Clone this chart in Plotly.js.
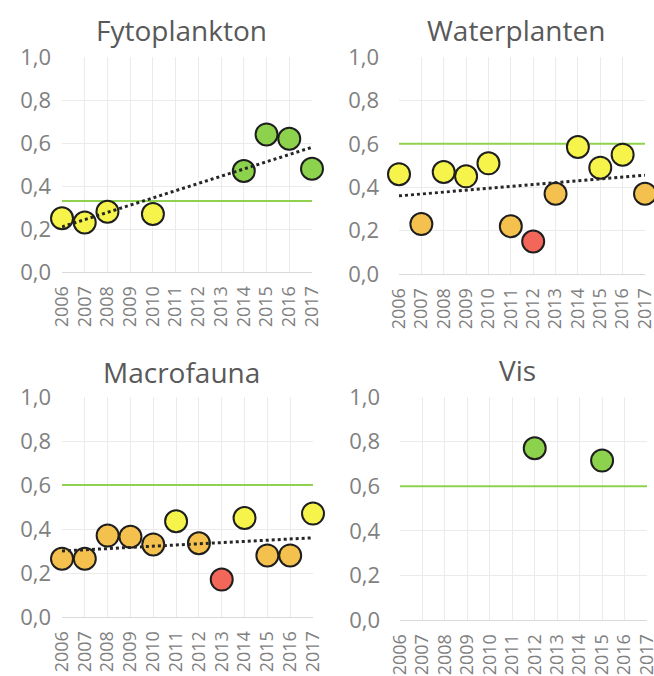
<!DOCTYPE html>
<html>
<head>
<meta charset="utf-8">
<script src="https://cdn.plot.ly/plotly-3.0.1.min.js"></script>
<style>html,body{margin:0;padding:0;background:#fff;}#chart{width:654px;height:676px;}</style>
</head>
<body>
<div id="chart"></div>
<script>
// ---- data ----
const years = [2006, 2007, 2008, 2009, 2010, 2011, 2012, 2013, 2014, 2015, 2016, 2017];
const yearLabels = ["2006","2007","2008","2009","2010","2011","2012","2013","2014","2015","2016","2017"];
const yTickVals = [0, 0.2, 0.4, 0.6, 0.8, 1.0];
const yTickLabels = ["0,0","0,2","0,4","0,6","0,8","1,0"];
const panelTitles = ["Fytoplankton", "Waterplanten", "Macrofauna", "Vis"];

const fytoValues = [0.25, 0.23, 0.28, null, 0.27, null, null, null, 0.47, 0.64, 0.62, 0.48];
const fytoClass  = ["y","y","y",null,"y",null,null,null,"g","g","g","g"];
const fytoGoal = 0.33;
const fytoTrend = [0.21, 0.58];

const waterValues = [0.46, 0.23, 0.47, 0.45, 0.51, 0.22, 0.15, 0.37, 0.585, 0.49, 0.55, 0.37];
const waterClass  = ["y","o","y","y","y","o","r","o","y","y","y","o"];
const waterGoal = 0.60;
const waterTrend = [0.36, 0.455];

const macroValues = [0.265, 0.265, 0.37, 0.365, 0.33, 0.435, 0.335, 0.17, 0.45, 0.28, 0.28, 0.47];
const macroClass  = ["o","o","o","o","o","y","o","r","y","o","o","y"];
const macroGoal = 0.60;
const macroTrend = [0.30, 0.36];

const visValues = [null, null, null, null, null, null, 0.77, null, null, 0.715, null, null];
const visClass  = [null,null,null,null,null,null,"g",null,null,"g",null,null];
const visGoal = 0.60;
const visTrend = null;

// ---- styling ----
const classColors = {y: "#f6f34a", o: "#f5c14e", r: "#f2675a", g: "#8dd24c"};
const W = 654, H = 676;
// plot boxes in pixels [left, right, top, bottom]
const boxes = [
  [62, 312, 57, 272],
  [399, 645, 57, 274],
  [62, 313, 397, 617],
  [400, 647, 397, 620]
];
const titleY = [30, 30, 372, 370];

const panels = [
  {vals: fytoValues, cls: fytoClass, goal: fytoGoal, trend: fytoTrend},
  {vals: waterValues, cls: waterClass, goal: waterGoal, trend: waterTrend},
  {vals: macroValues, cls: macroClass, goal: macroGoal, trend: macroTrend},
  {vals: visValues, cls: visClass, goal: visGoal, trend: visTrend}
];

const FONT = "'Open Sans', sans-serif";
const traces = [];
const layout = {
  width: W, height: H,
  margin: {l: 0, r: 0, t: 0, b: 0},
  paper_bgcolor: "#ffffff",
  plot_bgcolor: "#ffffff",
  showlegend: false,
  annotations: []
};

panels.forEach((p, i) => {
  const n = i + 1;
  const xa = "x" + (n === 1 ? "" : n);
  const ya = "y" + (n === 1 ? "" : n);
  const b = boxes[i];
  const xKey = "xaxis" + (n === 1 ? "" : n);
  const yKey = "yaxis" + (n === 1 ? "" : n);

  layout[xKey] = {
    domain: [b[0] / W, b[1] / W],
    anchor: ya,
    range: [years[0], years[years.length - 1]],
    tickmode: "array",
    tickvals: years,
    ticktext: yearLabels,
    tickangle: -90,
    tickfont: {family: FONT, size: 18, color: "#808080"},
    showgrid: true,
    gridcolor: "#ebebeb",
    gridwidth: 1,
    zeroline: false,
    showline: true,
    linecolor: "#d9d9d9",
    linewidth: 1,
    ticks: "",
    ticklabelstandoff: 6,
    ticklabeloverflow: "allow",
    fixedrange: true
  };
  layout[yKey] = {
    domain: [1 - b[3] / H, 1 - b[2] / H],
    anchor: xa,
    range: [0, 1],
    tickmode: "array",
    tickvals: yTickVals,
    ticktext: yTickLabels,
    tickfont: {family: FONT, size: 22, color: "#808080"},
    showgrid: true,
    gridcolor: "#ebebeb",
    gridwidth: 1,
    zeroline: false,
    showline: false,
    ticks: "",
    ticklabelstandoff: i % 2 === 0 ? 10 : 19,
    ticklabeloverflow: "allow",
    fixedrange: true
  };

  // goal line
  traces.push({
    type: "scatter", mode: "lines",
    x: [years[0], years[years.length - 1]],
    y: [p.goal, p.goal],
    xaxis: xa, yaxis: ya,
    line: {color: "#8fd24f", width: 2},
    hoverinfo: "skip",
    cliponaxis: false
  });

  // markers
  traces.push({
    type: "scatter", mode: "markers",
    x: years, y: p.vals,
    xaxis: xa, yaxis: ya,
    marker: {
      size: 22,
      color: p.cls.map(c => c ? classColors[c] : "rgba(0,0,0,0)"),
      line: {color: "#1e1e1e", width: 2}
    },
    cliponaxis: false
  });

  // trend line (drawn on top)
  if (p.trend) {
    traces.push({
      type: "scatter", mode: "lines",
      x: [years[0], years[years.length - 1]],
      y: p.trend,
      xaxis: xa, yaxis: ya,
      line: {color: "#262626", width: 3, dash: "dot"},
      hoverinfo: "skip",
      cliponaxis: false
    });
  }

  layout.annotations.push({
    text: panelTitles[i],
    xref: "paper", yref: "paper",
    x: ((b[0] + b[1]) / 2 - 6) / W,
    y: 1 - titleY[i] / H,
    xanchor: "center", yanchor: "middle",
    showarrow: false,
    font: {family: FONT, size: 28, color: "#595959"}
  });
});

Plotly.newPlot("chart", traces, layout, {displayModeBar: false, staticPlot: true});
</script>
</body>
</html>
